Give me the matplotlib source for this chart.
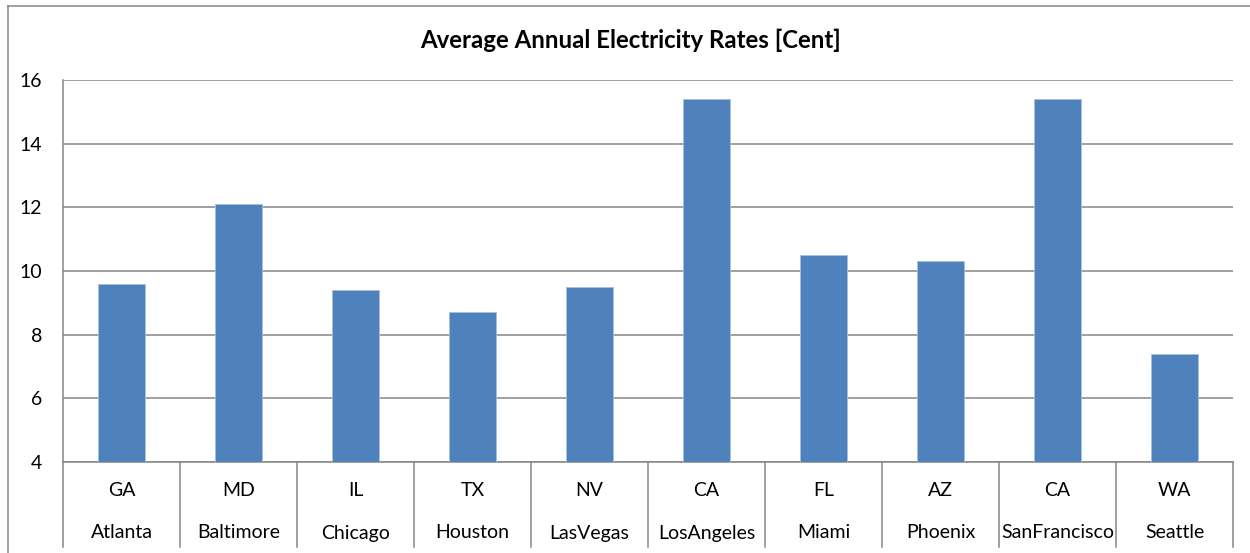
import numpy as np
import matplotlib
matplotlib.use("Agg")
from matplotlib import pyplot as plt
from matplotlib.transforms import blended_transform_factory
from matplotlib.lines import Line2D

# Data
states = ["GA", "MD", "IL", "TX", "NV", "CA", "FL", "AZ", "CA", "WA"]
cities = ["Atlanta", "Baltimore", "Chicago", "Houston", "LasVegas",
          "LosAngeles", "Miami", "Phoenix", "SanFrancisco", "Seattle"]
rates = [9.6, 12.1, 9.4, 8.7, 9.5, 15.4, 10.5, 10.3, 15.4, 7.4]
y_ticks = [4, 6, 8, 10, 12, 14, 16]

plt.rcParams['font.family'] = ['Lato', 'DejaVu Sans']
grid_col = '#868686'
fs = 14

fig = plt.figure(figsize=(12.5, 5.53), dpi=100)
ax = fig.add_axes([63 / 1250, 1 - 462 / 553, 1170 / 1250, 382 / 553])

x = np.arange(len(rates))
ax.bar(x, np.array(rates) - 4, bottom=4, width=0.4, color='#4F81BD',
       edgecolor='#A7C0DE', linewidth=0.6, zorder=3)

ax.set_xlim(-0.5, len(rates) - 0.5)
ax.set_ylim(4, 16)
ax.set_yticks(y_ticks)
ax.set_xticks([])
ax.tick_params(axis='y', length=0, pad=15, labelsize=fs)
for t in ax.get_yticklabels():
    t.set_horizontalalignment('right')
ax.yaxis.grid(True, color=grid_col, linewidth=1.1, zorder=0)

for side in ['top', 'right']:
    ax.spines[side].set_visible(False)
for side in ['left', 'bottom']:
    ax.spines[side].set_color(grid_col)
    ax.spines[side].set_linewidth(1.1)

# multi-level category axis
trans = blended_transform_factory(ax.transData, ax.transAxes)
sep_bottom = -(547 - 462) / 382
for i in range(len(rates) + 1):
    ax.plot([i - 0.5, i - 0.5], [0, sep_bottom], color=grid_col, lw=1.1,
            transform=trans, clip_on=False)
for i in range(len(rates)):
    ax.text(i, -(491 - 462) / 382, states[i], transform=trans,
            ha='center', va='center', fontsize=fs)
    ax.text(i, -(533 - 462) / 382, cities[i], transform=trans,
            ha='center', va='center', fontsize=fs)

fig.text(631 / 1250, 1 - 40 / 553, "Average Annual Electricity Rates [Cent]",
         ha='center', va='center', fontsize=17.3, fontweight='bold')

# outer chart border
fig.add_artist(Line2D([7.5 / 1250, 7.5 / 1250], [0, 1 - 5.5 / 553],
                      color=grid_col, lw=1.1, transform=fig.transFigure))
fig.add_artist(Line2D([7.5 / 1250, 1], [1 - 5.5 / 553, 1 - 5.5 / 553],
                      color=grid_col, lw=1.1, transform=fig.transFigure))

fig.savefig('out.png', dpi=100)
